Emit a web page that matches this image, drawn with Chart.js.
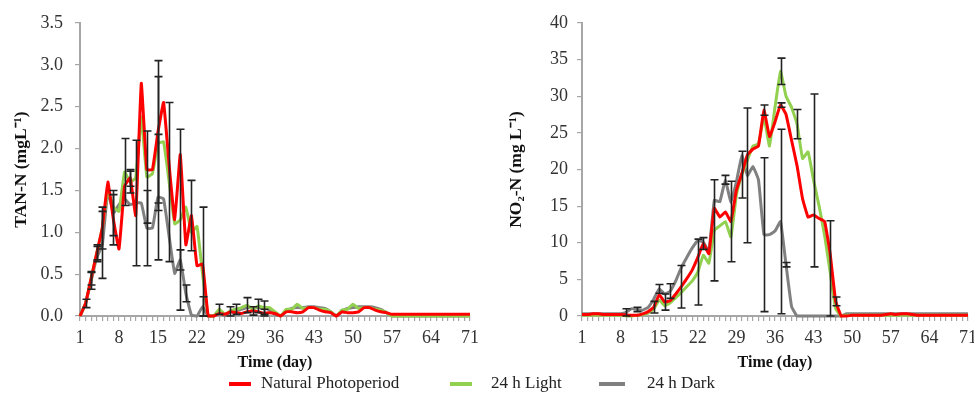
<!DOCTYPE html>
<html>
<head>
<meta charset="utf-8">
<script src="https://cdn.jsdelivr.net/npm/chart.js@4.4.1/dist/chart.umd.min.js"></script>
<style>
  body { margin: 0; background: #fff; width: 974px; height: 402px; position: relative; overflow: hidden; }
  .panel { position: absolute; top: 0; width: 487px; height: 375px; }
  #legend { position: absolute; left: 0; top: 372px; width: 974px; height: 24px;
            font-family: "Liberation Serif", "Times New Roman", serif; font-size: 17px; color: #222; }
  .item { position: absolute; top: 0; line-height: 22px; white-space: nowrap; }
  .swatch { position: absolute; top: 10px; height: 4px; }
</style>
</head>
<body>
<div class="panel" style="left:0"><canvas id="tan"></canvas></div>
<div class="panel" style="left:487px"><canvas id="no2"></canvas></div>
<div id="legend">
  <div class="swatch" style="left:229px;width:22px;background:#ff0000"></div>
  <div class="item" style="left:261px">Natural Photoperiod</div>
  <div class="swatch" style="left:450px;width:22px;background:#92d050"></div>
  <div class="item" style="left:491px">24 h Light</div>
  <div class="swatch" style="left:599px;width:26px;background:#808080"></div>
  <div class="item" style="left:647px">24 h Dark</div>
</div>
<script>
// days of the trial
const days = [1,2,3,4,5,6,7,8,9,10,11,12,13,14,15,16,17,18,19,20,21,22,23,24,25,26,27,28,29,30,
  31,32,33,34,35,36,37,38,39,40,41,42,43,44,45,46,47,48,49,50,51,52,53,54,55,56,57,58,59,60,
  61,62,63,64,65,66,67,68,69,70,71];
const xTickLabels = [1, 8, 15, 22, 29, 36, 43, 50, 57, 64, 71];
const tanTicks = [0, 0.5, 1.0, 1.5, 2.0, 2.5, 3.0, 3.5];
const no2Ticks = [0, 5, 10, 15, 20, 25, 30, 35, 40];

// TAN-N (mg/L)
const tanNatural = [0,0.15,0.45,0.75,1.05,1.6,1.15,0.8,1.55,1.65,1.2,2.78,1.75,1.75,2.2,2.55,1.8,1.15,1.93,0.85,
  1.2,0.6,0.62,0,0,0.03,0.02,0.05,0.04,0.03,0.05,0.06,0.05,0.03,0.04,0.03,0,0.05,0.05,0.04,
  0.05,0.1,0.1,0.07,0.05,0.04,0,0.05,0.04,0.04,0.05,0.1,0.1,0.07,0.05,0.04,0.02,0.02,0.02,0.02,
  0.02,0.02,0.02,0.02,0.02,0.02,0.02,0.02,0.02,0.02,0.02];
const tanLight = [0,0.15,0.45,0.75,1.05,1.5,1.3,1.25,1.72,1.6,1.65,2.38,1.66,1.7,2.06,2.08,1.6,1.1,1.15,1.3,
  1.0,1.07,0.5,0,0,0.08,0.02,0.06,0.08,0.1,0.13,0.08,0.12,0.1,0.1,0.05,0,0.08,0.08,0.14,
  0.09,0.1,0.1,0.08,0.08,0.05,0,0.07,0.08,0.14,0.09,0.1,0.1,0.08,0.07,0.04,0,0,0,0,
  0,0,0,0,0,0,0,0,0,0,0];
const tanDark = [0,0.15,0.42,0.7,0.85,1.49,1.23,1.33,1.4,1.33,1.35,1.35,1.05,1.05,1.42,1.4,0.95,0.51,0.67,0.27,
  0.01,0,0.11,0,0,0.05,0,0.05,0.07,0.08,0.1,0.1,0.1,0.1,0.07,0.02,0,0.06,0.09,0.1,
  0.1,0.11,0.11,0.1,0.09,0.05,0,0.06,0.09,0.1,0.11,0.11,0.11,0.1,0.08,0.04,0,0,0,0,
  0,0,0,0,0,0,0,0,0,0,0];
// [day, sd]
const tanNaturalErr = [[4,0.08],[7,0.3],[10,0.1],[15,0.85],[21,0.42],[23,0.68],[32,0.05],[34,0.05]];
const tanLightErr = [[3,0.08],[4,0.1],[5,0.25],[9,0.4],[10,0.13],[13,0.55],[15,0.8],[17,0.95],[19,1.08],
  [26,0.06],[29,0.06],[31,0.09],[33,0.08]];
const tanDarkErr = [[2,0.05],[3,0.1],[5,0.4],[7,0.27],[11,0.75],[13,0.45],[15,0.75],[19,0.12],[20,0.1],
  [23,0.12],[28,0.06],[34,0.08]];

// NO2-N (mg/L)
const no2Natural = [0.2,0.2,0.3,0.3,0.2,0.2,0.2,0.2,0.15,0.1,0.1,0.3,0.6,1.2,2.9,1.9,2.1,3.0,4.0,5.1,
  6.3,8.0,9.9,8.5,14.7,13.5,14.2,12.9,17.2,19.5,22,22.8,23.2,28.1,24.5,26.5,28.8,27.5,24,20.5,
  16,13.5,13.8,13.3,12.9,8.5,2,0,0,0.1,0.1,0.1,0.1,0.1,0.1,0.2,0.3,0.2,0.3,0.3,
  0.2,0.1,0.1,0.1,0.1,0.1,0.1,0.1,0.1,0.1,0.1];
const no2Light = [0.1,0.1,0.1,0.1,0.1,0.1,0.1,0.1,0,0,0.1,0.2,0.4,0.9,2.2,1.4,1.8,2.5,3.2,4.0,
  4.8,6.0,8.3,7.2,11.7,12.3,12.9,10.8,16.5,19.3,21.3,23.2,23.5,27.2,23.2,28.5,33.4,30,28.5,26.2,
  21.5,22.4,18.5,15,11,6,1,0,0.1,0.1,0.1,0.1,0.1,0.1,0.1,0.1,0.1,0.1,0.1,0.1,
  0.1,0.1,0.1,0.1,0.1,0.1,0.1,0.1,0.1,0.1,0.1];
const no2Dark = [0.3,0.3,0.3,0.3,0.3,0.3,0.3,0.3,0.5,1.0,0.9,0.8,1.2,2.3,3.7,3.0,3.4,4.8,6.6,8.0,
  9.3,10.3,10.1,8.8,15.8,15.6,18.6,15.5,18.3,21.9,19.2,20.4,18.6,11.1,11.1,11.6,12.9,7,1.3,0,
  0,0,0,0,0,0,0,0,0.3,0.3,0.3,0.3,0.3,0.3,0.3,0.3,0.3,0.3,0.3,0.3,
  0.3,0.3,0.3,0.3,0.3,0.3,0.3,0.3,0.3,0.3,0.3];
const no2NaturalErr = [[14,0.8],[16,1.1],[19,2.9],[23,0.8],[28,5.5],[34,0.7],[37,0.3],[47,0.6]];
const no2LightErr = [[22,4.5],[25,6.9],[30,3.2],[37,1.8],[40,2.0],[43,11.8],[46,7]];
const no2DarkErr = [[9,0.5],[11,0.3],[15,0.6],[17,1.0],[27,0.6],[31,9.2],[34,10.5],[37,12.6],[38,0.3]];

const errorBarPlugin = {
  id: 'errorBars',
  afterDatasetsDraw(chart) {
    const ctx = chart.ctx;
    const x = chart.scales.x, y = chart.scales.y;
    ctx.save();
    ctx.strokeStyle = '#222';
    ctx.lineWidth = 1.6;
    chart.data.datasets.forEach(function (ds) {
      (ds.errorBars || []).forEach(function (e) {
        const v = ds.data[e[0] - 1].y;
        const px = Math.round(x.getPixelForValue(e[0])) + 0.5;
        const top = y.getPixelForValue(v + e[1]);
        const bot = y.getPixelForValue(Math.max(0, v - e[1]));
        ctx.beginPath();
        ctx.moveTo(px, top); ctx.lineTo(px, bot);
        ctx.moveTo(px - 4, top); ctx.lineTo(px + 4, top);
        ctx.moveTo(px - 4, bot); ctx.lineTo(px + 4, bot);
        ctx.stroke();
      });
    });
    ctx.restore();
  }
};

function series(label, values, color, errs) {
  return {
    label: label,
    data: days.map(function (d, i) { return {x: d, y: values[i]}; }),
    borderColor: color,
    backgroundColor: color,
    borderWidth: 3,
    pointRadius: 0,
    tension: 0.1,
    borderJoinStyle: 'round',
    clip: 6,
    errorBars: errs
  };
}

const axisColor = '#a6a6a6';
const serif = '"Liberation Serif", "Times New Roman", serif';

function makeChart(id, datasets, yTicks, yTitle, o) {
  return new Chart(document.getElementById(id), {
    type: 'line',
    data: {datasets: datasets},
    plugins: [errorBarPlugin],
    options: {
      responsive: true,
      maintainAspectRatio: false,
      animation: false,
      layout: {padding: {left: 0, top: 23, right: o.right, bottom: 0}},
      plugins: {legend: {display: false}, tooltip: {enabled: false}},
      scales: {
        x: {
          type: 'linear', min: 1, max: 71,
          afterBuildTicks: function (s) { s.ticks = days.map(function (d) { return {value: d}; }); },
          afterFit: function (s) { s.height = 59; s.paddingLeft = 0; s.paddingRight = 0; },
          ticks: {
            autoSkip: false, maxRotation: 0, padding: 6, color: '#333',
            font: {family: serif, size: 18},
            callback: function (v) { return xTickLabels.indexOf(v) >= 0 ? String(v) : ''; }
          },
          grid: {drawOnChartArea: false, drawTicks: true, tickLength: 5, color: axisColor, lineWidth: 1.2},
          border: {color: axisColor, width: 2},
          title: {display: true, text: 'Time (day)', color: '#111',
                  font: {family: serif, size: 16, weight: 'bold'}, padding: {top: 0, bottom: 3}}
        },
        y: {
          min: 0, max: yTicks[yTicks.length - 1],
          afterBuildTicks: function (s) { s.ticks = yTicks.map(function (v) { return {value: v}; }); },
          afterFit: function (s) { s.width = o.yWidth; s.paddingTop = 0; s.paddingBottom = 0; },
          ticks: {
            padding: o.labelPad, color: '#333',
            font: {family: serif, size: 18},
            callback: function (v) { return o.decimals ? v.toFixed(1) : String(v); }
          },
          grid: {drawOnChartArea: false, drawTicks: true, tickLength: 5, color: axisColor, lineWidth: 1.2},
          border: {color: axisColor, width: 2},
          title: {display: true, text: yTitle, color: '#111',
                  font: {family: serif, size: 17.5, weight: 'bold'}, padding: {top: o.titlePad, bottom: 0}}
        }
      }
    }
  });
}

makeChart('tan', [
  series('Natural Photoperiod', tanNatural, '#ff0000', tanNaturalErr),
  series('24 h Light', tanLight, '#92d050', tanLightErr),
  series('24 h Dark', tanDark, '#808080', tanDarkErr)
], tanTicks, 'TAN-N (mgL⁻¹)', {right: 17, yWidth: 80, labelPad: 12, titlePad: 11, decimals: true});

makeChart('no2', [
  series('Natural Photoperiod', no2Natural, '#ff0000', no2NaturalErr),
  series('24 h Light', no2Light, '#92d050', no2LightErr),
  series('24 h Dark', no2Dark, '#808080', no2DarkErr)
], no2Ticks, 'NO₂-N (mg L⁻¹)', {right: 6, yWidth: 95, labelPad: 9, titlePad: 19, decimals: false});
</script>
</body>
</html>
